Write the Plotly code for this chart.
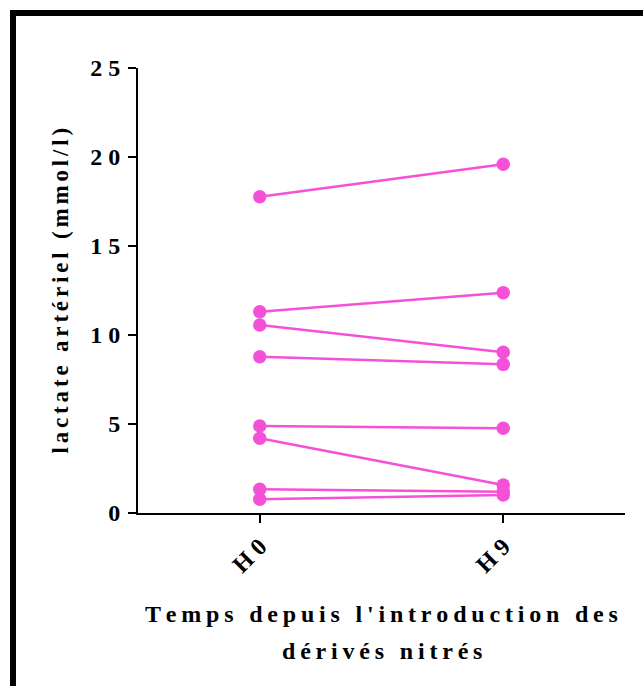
import plotly.graph_objects as go

# Arterial lactate (mmol/l) per patient, at H0 and H9 after starting nitrates
time_points = ["H0", "H9"]
lactate_h0 = [17.77, 11.31, 10.56, 8.78, 4.89, 4.20, 1.33, 0.77]
lactate_h9 = [19.59, 12.38, 9.03, 8.35, 4.76, 1.57, 1.20, 1.01]
y_tick_values = [0, 5, 10, 15, 20, 25]

x_title_lines = ["Temps depuis l'introduction des", "dérivés nitrés"]
y_title = "lactate artériel (mmol/l)"

PINK = "#F551D8"
FONT = "Liberation Serif"

W, H = 643, 686
X0, X1, Y0, Y1 = 138, 625, 68, 513  # plot area in pixels


def px_x(px):
    return (px - X0) / (X1 - X0)


def px_y(py):
    return (Y1 - py) / (Y1 - Y0)


def spaced(text, sep="\u2009"):
    """Widen letter spacing with narrow spaces between characters."""
    return sep.join(text)


fig = go.Figure()
for a, b in zip(lactate_h0, lactate_h9):
    fig.add_trace(go.Scatter(
        x=time_points, y=[a, b], mode="lines+markers",
        line=dict(color=PINK, width=2.5),
        marker=dict(color=PINK, size=13.5),
        showlegend=False, hoverinfo="skip",
    ))

axis_common = dict(
    showline=True, linecolor="black", linewidth=2,
    ticks="outside", ticklen=8, tickwidth=2, tickcolor="black",
    showgrid=False, zeroline=False,
    tickfont=dict(family=FONT, size=24, color="black", weight="bold"),
)

fig.update_xaxes(
    type="category", categoryorder="array", categoryarray=time_points,
    range=[-0.5, 1.5], tickangle=-45,
    tickvals=time_points, ticktext=[spaced(t, "\u2005") for t in time_points],
    **axis_common,
)
fig.update_yaxes(
    range=[0, 25], tickvals=y_tick_values,
    ticktext=[spaced(str(v), "\u2005") for v in y_tick_values],
    ticklabelstandoff=3,
    **axis_common,
)

annotations = [
    dict(text=spaced(y_title, "\u2006"), textangle=-90,
         x=px_x(60), y=0.5, xref="paper", yref="paper",
         xanchor="center", yanchor="middle", showarrow=False,
         font=dict(family=FONT, size=23, color="black", weight="bold")),
]
for line, py in zip(x_title_lines, [614, 651]):
    annotations.append(dict(
        text=spaced(line, "\u2009"), x=0.5, y=px_y(py),
        xref="paper", yref="paper", xanchor="center", yanchor="middle",
        showarrow=False,
        font=dict(family=FONT, size=24, color="black", weight="bold"),
    ))

# Black frame along the top and left edges
frame = dict(type="path", xref="paper", yref="paper",
             path=f"M {px_x(13)},{px_y(H + 10)} L {px_x(13)},{px_y(13)} L {px_x(W + 10)},{px_y(13)}",
             line=dict(color="black", width=6))

fig.update_layout(
    width=W, height=H,
    margin=dict(l=X0, r=W - X1, t=Y0, b=H - Y1, autoexpand=False),
    plot_bgcolor="white", paper_bgcolor="white",
    annotations=annotations, shapes=[frame],
)

fig.write_html("out.html")
